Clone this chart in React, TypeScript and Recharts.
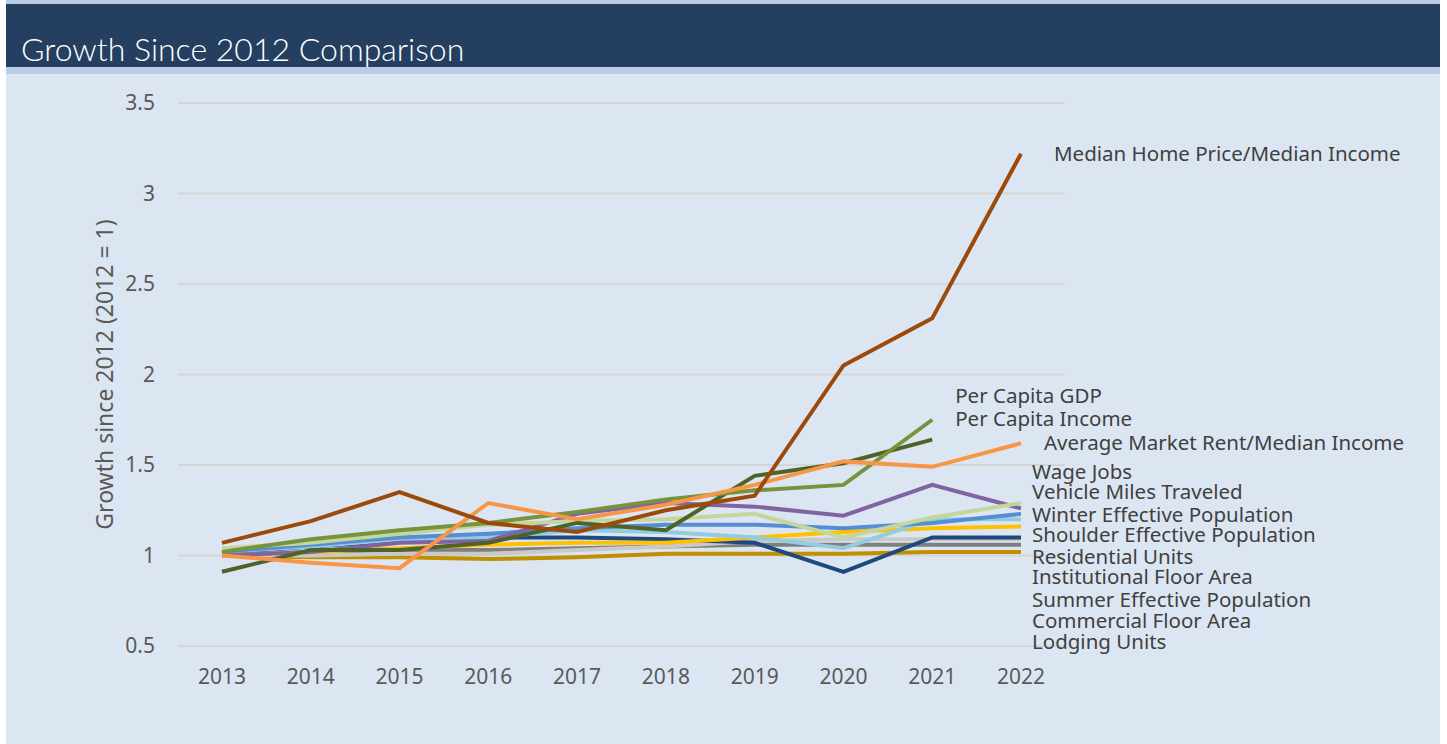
import { LineChart, Line, XAxis, YAxis, CartesianGrid, Label, LabelList } from 'recharts'

const years = ['2013', '2014', '2015', '2016', '2017', '2018', '2019', '2020', '2021', '2022']

const medianHomePrice = [1.07, 1.19, 1.35, 1.18, 1.13, 1.25, 1.33, 2.05, 2.31, 3.22]
const perCapitaGdp = [1.02, 1.09, 1.14, 1.18, 1.24, 1.31, 1.36, 1.39, 1.75, null]
const perCapitaIncome = [0.91, 1.03, 1.03, 1.07, 1.18, 1.14, 1.44, 1.51, 1.64, null]
const marketRent = [1.0, 0.96, 0.93, 1.29, 1.2, 1.28, 1.39, 1.52, 1.49, 1.62]
const wageJobs = [1.04, 1.07, 1.12, 1.17, 1.19, 1.2, 1.23, 1.1, 1.21, 1.29]
const vehicleMiles = [1.0, 1.02, 1.07, 1.08, 1.23, 1.29, 1.27, 1.22, 1.39, 1.26]
const winterPop = [1.02, 1.06, 1.1, 1.12, 1.15, 1.17, 1.17, 1.15, 1.18, 1.23]
const shoulderPop = [1.02, 1.05, 1.09, 1.1, 1.14, 1.13, 1.1, 1.04, 1.2, 1.2]
const residentialUnits = [1.0, 1.02, 1.04, 1.06, 1.07, 1.07, 1.1, 1.13, 1.15, 1.16]
const institutionalFloor = [1.01, 1.05, 1.08, 1.1, 1.1, 1.09, 1.07, 0.91, 1.1, 1.1]
const summerPop = [1.0, 1.0, 1.01, 1.01, 1.03, 1.05, 1.08, 1.09, 1.09, 1.09]
const commercialFloor = [1.0, 1.02, 1.03, 1.03, 1.04, 1.05, 1.06, 1.06, 1.06, 1.06]
const lodgingUnits = [1.0, 0.99, 0.99, 0.98, 0.99, 1.01, 1.01, 1.01, 1.02, 1.02]

const yTicks = [0.5, 1, 1.5, 2, 2.5, 3, 3.5]

// drawing order: bottom first; dx/dy place the end label next to the last point
const series = [
  { key: 'lodging', name: 'Lodging Units', values: lodgingUnits, color: '#BF9000', dx: 11, dy: 90 },
  { key: 'commercial', name: 'Commercial Floor Area', values: commercialFloor, color: '#7F7F7F', dx: 11, dy: 76 },
  { key: 'summer', name: 'Summer Effective Population', values: summerPop, color: '#C9C9C9', dx: 11, dy: 61 },
  { key: 'institutional', name: 'Institutional Floor Area', values: institutionalFloor, color: '#1F497D', dx: 11, dy: 40 },
  { key: 'residential', name: 'Residential Units', values: residentialUnits, color: '#FFC000', dx: 11, dy: 30 },
  { key: 'shoulder', name: 'Shoulder Effective Population', values: shoulderPop, color: '#93CDDD', dx: 11, dy: 16 },
  { key: 'winter', name: 'Winter Effective Population', values: winterPop, color: '#558ED5', dx: 11, dy: 1 },
  { key: 'vmt', name: 'Vehicle Miles Traveled', values: vehicleMiles, color: '#8064A2', dx: 11, dy: -16 },
  { key: 'wage', name: 'Wage Jobs', values: wageJobs, color: '#C3D69B', dx: 11, dy: -31 },
  { key: 'income', name: 'Per Capita Income', values: perCapitaIncome, color: '#4F6228', dx: 23, dy: -21 },
  { key: 'gdp', name: 'Per Capita GDP', values: perCapitaGdp, color: '#77933C', dx: 23, dy: -24 },
  { key: 'rent', name: 'Average Market Rent/Median Income', values: marketRent, color: '#F79646', dx: 23, dy: 0 },
  { key: 'home', name: 'Median Home Price/Median Income', values: medianHomePrice, color: '#9C4A0B', dx: 33, dy: 0 },
]

const data = years.map((year, i) => {
  const row: Record<string, string | number | null> = { year }
  series.forEach((s) => {
    row[s.key] = s.values[i]
  })
  return row
})

const font = '"Noto Sans", "Open Sans", sans-serif'

function endLabel(name: string, lastIndex: number, dx: number, dy: number) {
  return (props: any) => {
    if (props.index !== lastIndex) return null
    return (
      <text
        x={Number(props.x) + dx}
        y={Number(props.y) + dy - 1}
        dominantBaseline="central"
        fill="#404040"
        fontSize={20.5}
        fontFamily={font}
      >
        {name}
      </text>
    )
  }
}

export default function App() {
  return (
    <div style={{ position: 'absolute', left: 0, top: 0, width: 1447, height: 744, background: '#ffffff' }}>
      <div style={{ position: 'absolute', left: 6, top: 0, width: 1434, height: 744, background: '#DCE6F2' }} />
      <div style={{ position: 'absolute', left: 6, top: 0, width: 1434, height: 74, background: '#B8CCE4' }} />
      <div style={{ position: 'absolute', left: 6, top: 4, width: 1434, height: 63, background: '#243F60' }} />
      <div
        style={{
          position: 'absolute',
          left: 21,
          top: 30,
          color: '#ffffff',
          fontFamily: 'Lato, "Noto Sans", sans-serif',
          fontWeight: 300,
          fontSize: 32,
          lineHeight: '38px',
        }}
      >
        Growth Since 2012 Comparison
      </div>
      <div style={{ position: 'absolute', left: 0, top: 0 }}>
        <LineChart width={1447} height={744} data={data} margin={{ top: 103, right: 382, bottom: 68, left: 118 }}>
          <CartesianGrid vertical={false} stroke="#D6D6D6" strokeWidth={2} />
          <XAxis
            dataKey="year"
            height={30}
            padding={{ left: 44, right: 44 }}
            axisLine={false}
            tickLine={false}
            tickSize={0}
            tickMargin={23}
            tick={{ fill: '#595959', fontSize: 21, fontFamily: font }}
          />
          <YAxis
            width={60}
            domain={[0.5, 3.5]}
            ticks={yTicks}
            axisLine={false}
            tickLine={false}
            tickSize={0}
            tickMargin={23}
            tick={{ fill: '#595959', fontSize: 21, fontFamily: font }}
          >
            <Label
              content={(props: any) => {
                const vb = props.viewBox
                const cx = 104
                const cy = vb.y + vb.height / 2
                return (
                  <text
                    x={cx}
                    y={cy}
                    transform={`rotate(-90 ${cx} ${cy})`}
                    textAnchor="middle"
                    dominantBaseline="central"
                    fill="#595959"
                    fontSize={23}
                    fontFamily={font}
                  >
                    Growth since 2012 (2012 = 1)
                  </text>
                )
              }}
            />
          </YAxis>
          {series.map((s) => {
            let last = s.values.length - 1
            while (last > 0 && s.values[last] == null) last--
            return (
              <Line
                key={s.key}
                type="linear"
                dataKey={s.key}
                stroke={s.color}
                strokeWidth={4}
                dot={false}
                activeDot={false}
                isAnimationActive={false}
              >
                <LabelList dataKey={s.key} content={endLabel(s.name, last, s.dx, s.dy)} />
              </Line>
            )
          })}
        </LineChart>
      </div>
    </div>
  )
}
